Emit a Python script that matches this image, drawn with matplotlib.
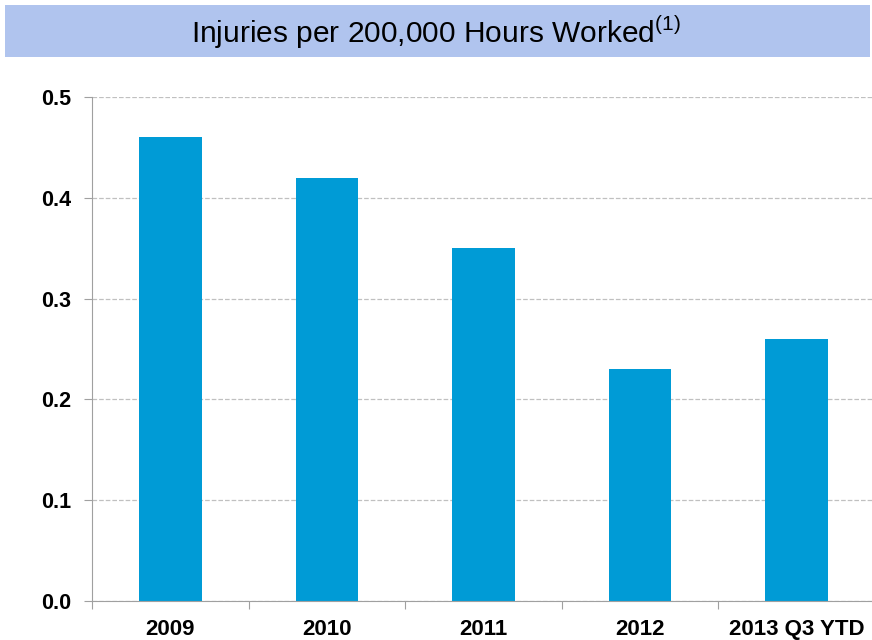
#!/usr/bin/env python3

from matplotlib import pyplot as plt
from matplotlib.patches import Rectangle

categories = ["2009", "2010", "2011", "2012", "2013 Q3 YTD"]
rates = [0.46, 0.42, 0.35, 0.23, 0.26]
yticks = [0.0, 0.1, 0.2, 0.3, 0.4, 0.5]

plt.rcParams["font.family"] = ["Liberation Sans", "DejaVu Sans"]

fig = plt.figure(figsize=(8.72, 6.4), dpi=100)

# title banner
fig.patches.append(Rectangle((5 / 872, 1 - 57 / 640), 865 / 872, 52 / 640,
                             transform=fig.transFigure, facecolor="#B0C4EE",
                             edgecolor="none", zorder=0))
fig.text(0.5, 1 - 32 / 640, r"Injuries per 200,000 Hours Worked$^{\mathregular{(1)}}$",
         ha="center", va="center", fontsize=21.5)

ax = fig.add_axes([92 / 872, 1 - 601 / 640, 783 / 872, 504 / 640])
x = range(len(categories))
ax.bar(x, rates, width=0.4, color="#009BD6", zorder=2)

ax.set_xlim(-0.5, len(categories) - 0.5)
ax.set_ylim(0, 0.5)
ax.set_yticks(yticks)
ax.set_yticklabels([f"{v:.1f}" for v in yticks], fontsize=15.5, fontweight="bold")

ax.set_xticks([i - 0.5 for i in range(len(categories) + 1)])
ax.set_xticklabels([])
ax.set_xticks(list(x), minor=True)
ax.set_xticklabels(categories, minor=True, fontsize=16, fontweight="bold")
ax.tick_params(axis="x", which="major", length=6, color="#A0A0A0", direction="out")
ax.tick_params(axis="x", which="minor", length=0, pad=13)
ax.tick_params(axis="y", length=6, color="#A0A0A0", pad=9)

ax.grid(axis="y", linestyle="--", color="#C0C0C0", linewidth=0.9, zorder=0)
for side in ["top", "right"]:
    ax.spines[side].set_visible(False)
for side in ["left", "bottom"]:
    ax.spines[side].set_color("#A0A0A0")

plt.savefig("out.png", dpi=100)
